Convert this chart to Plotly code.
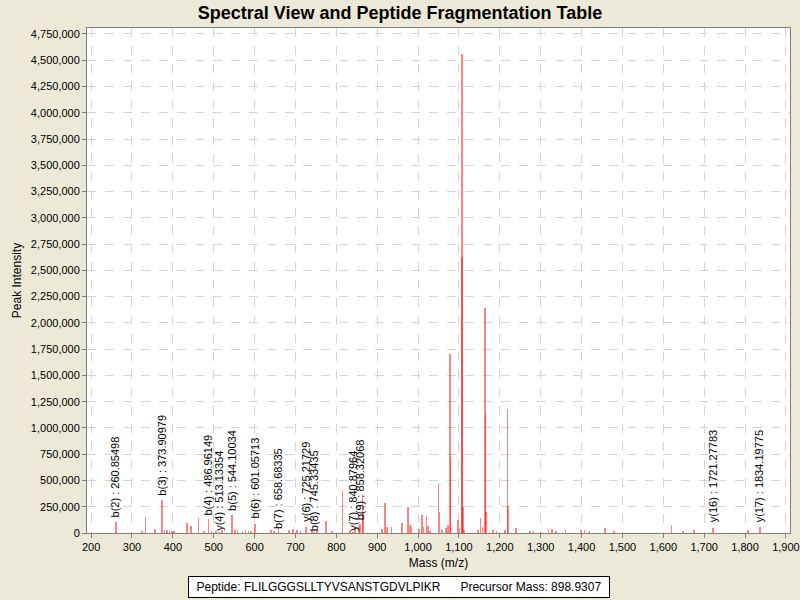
import plotly.graph_objects as go

# ---- data ----
peak_mz = [260.85, 325, 333, 355, 358, 373.9, 380, 385, 392, 398, 403, 434, 445, 463, 476,
           487, 495, 505, 513.1, 520, 544.1, 552, 558, 570, 578, 585, 592, 601.06, 640, 648,
           658.7, 684, 694, 704, 712, 725.2, 740, 745.3, 753, 775, 789, 815, 833, 840.9, 846,
           856, 858.3, 864, 866, 911, 919, 924, 935, 960, 976, 980, 984, 1002, 1009, 1013,
           1021, 1024, 1029, 1050, 1052, 1058, 1068, 1074, 1078, 1079, 1097, 1101, 1107, 1108,
           1110, 1113, 1147, 1153, 1158, 1164, 1165, 1166, 1184, 1192, 1213, 1219, 1220, 1239,
           1274, 1282, 1300, 1319, 1327, 1337, 1361, 1399, 1407, 1419, 1457, 1480, 1620, 1648,
           1675, 1722, 1807, 1836]
peak_int = [100000, 20000, 150000, 35000, 25000, 310000, 30000, 25000, 15000, 20000, 20000,
            95000, 70000, 143000, 20000, 136000, 20000, 15000, 12000, 28000, 171000, 30000,
            30000, 20000, 25000, 15000, 20000, 85000, 25000, 15000, 50000, 30000, 35000, 30000,
            15000, 60000, 30000, 12000, 25000, 117000, 20000, 400000, 25000, 12000, 60000, 60000,
            90000, 362000, 200000, 40000, 286000, 60000, 55000, 95000, 250000, 80000, 55000,
            40000, 171000, 60000, 162000, 70000, 20000, 470000, 200000, 30000, 45000, 80000,
            1700000, 700000, 124000, 50000, 4560000, 2630000, 250000, 25000, 25000, 143000,
            60000, 2140000, 1130000, 200000, 30000, 20000, 30000, 1180000, 260000, 45000,
            20000, 15000, 12000, 30000, 40000, 15000, 30000, 30000, 30000, 15000, 45000, 15000,
            80000, 20000, 25000, 45000, 30000, 57000]

label_text = ["b(2) : 260.85498", "b(3) : 373.90979", "b(4) : 486.96149", "y(4) : 513.13354",
              "b(5) : 544.10034", "b(6) : 601.05713", "b(7) : 658.68335", "y(6) : 725.21729",
              "b(8) : 745.33435", "y(7) : 840.87964", "b(9) : 858.32068", "y(16) : 1721.27783",
              "y(17) : 1834.19775"]
label_mz = [260.85498, 373.90979, 486.96149, 513.13354, 544.10034, 601.05713, 658.68335,
            725.21729, 745.33435, 840.87964, 858.32068, 1721.27783, 1834.19775]
label_y = [143000, 343000, 155000, 12000, 203000, 124000, 29000, 95000, 12000, 12000,
           108000, 92000, 92000]

x_ticks = list(range(200, 2000, 100))
y_ticks = list(range(0, 5000000, 250000))

title_text = "Spectral View and Peptide Fragmentation Table"
info_text = "Peptide: FLILGGGSLLTYVSANSTGDVLPIKR&nbsp;&nbsp;&nbsp;&nbsp;&nbsp;&nbsp;Precursor Mass: 898.9307"

# ---- figure ----
fig = go.Figure()
fig.add_trace(go.Bar(
    x=peak_mz, y=peak_int, width=4.0,
    marker=dict(color="rgba(255,30,30,0.55)", line=dict(width=0)),
    showlegend=False, hoverinfo="x+y"))

font_family = "Liberation Sans, Arial, sans-serif"

annotations = []
for t, mx, my in zip(label_text, label_mz, label_y):
    annotations.append(dict(x=mx, y=my, xref="x", yref="y", text=t, textangle=-90,
                            showarrow=False, xanchor="center", yanchor="bottom",
                            font=dict(size=11, color="black", family=font_family),
                            borderpad=0))
annotations.append(dict(x=0.4438, y=-0.107, xref="paper", yref="paper", text=info_text,
                        showarrow=False, xanchor="center", yanchor="middle",
                        bgcolor="white", bordercolor="black", borderwidth=1,
                        width=418, height=18, borderpad=1,
                        font=dict(size=12, color="black", family=font_family)))

fig.update_layout(
    width=800, height=600,
    margin=dict(l=87, r=10, t=28, b=67, autoexpand=False),
    paper_bgcolor="#ECE9D8", plot_bgcolor="white",
    font=dict(family=font_family, size=11, color="black"),
    title=dict(text="<b>" + title_text + "</b>", x=0.5, xanchor="center",
               y=0.979, yanchor="middle", font=dict(size=18, color="black", family=font_family)),
    bargap=0, barmode="overlay",
    annotations=annotations,
    xaxis=dict(range=[190, 1910], tickvals=x_ticks, ticktext=[f"{v:,}" for v in x_ticks],
               showgrid=True, gridcolor="#d4d4d4", griddash="dash", gridwidth=1,
               ticks="outside", ticklen=4, tickcolor="#808080", automargin=False,
               showline=True, linecolor="#808080", mirror=True, zeroline=False,
               title=dict(text="Mass (m/z)", standoff=6, font=dict(size=12)),
               tickfont=dict(size=11)),
    yaxis=dict(range=[0, 4807000], tickvals=y_ticks, ticktext=[f"{v:,}" for v in y_ticks],
               showgrid=True, gridcolor="#d4d4d4", griddash="dash", gridwidth=1,
               ticks="outside", ticklen=4, tickcolor="#808080", automargin=False,
               showline=True, linecolor="#808080", mirror=True, zeroline=False,
               title=dict(text="Peak Intensity", standoff=6, font=dict(size=12)),
               tickfont=dict(size=11)),
)

fig.write_html("out.html",
               config={"displayModeBar": False},
               post_script="document.body.style.margin='0';"
                           "document.body.style.background='#ECE9D8';"
                           "document.body.style.overflow='hidden';")
